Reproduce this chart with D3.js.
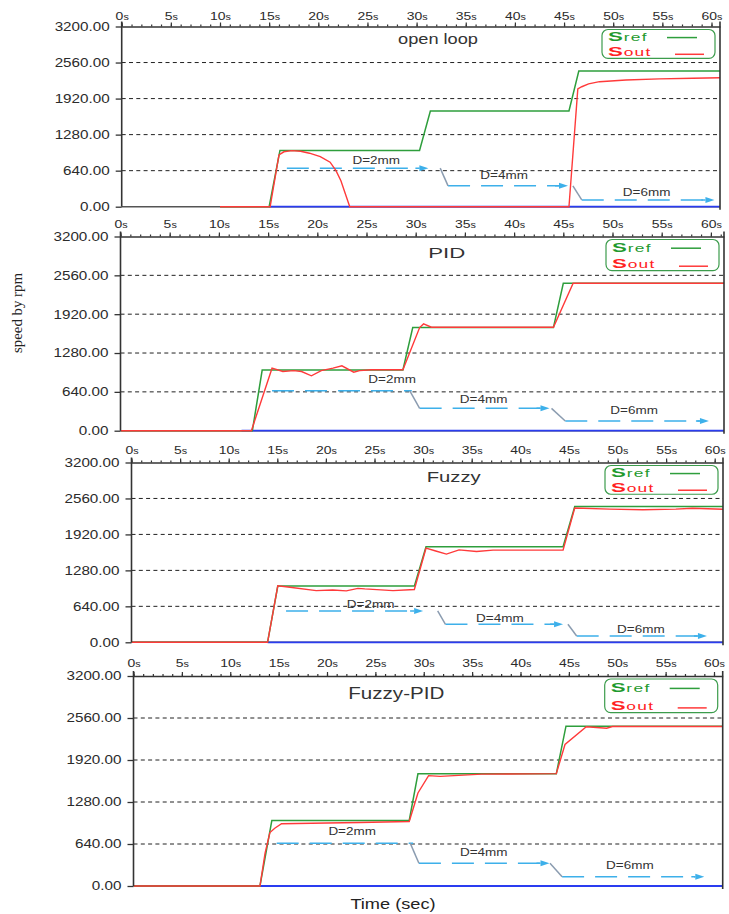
<!DOCTYPE html>
<html>
<head>
<meta charset="utf-8">
<script src="https://cdn.jsdelivr.net/npm/d3@7/dist/d3.min.js"></script>
<style>
  body { margin: 0; background: #fff; }
  svg { display: block; }
</style>
</head>
<body>
<svg id="chart" width="729" height="914"></svg>
<script>
// ---------------- data ----------------
const panelTitles = ["open loop", "PID", "Fuzzy", "Fuzzy-PID"];
const yTickValues = [0, 640, 1280, 1920, 2560, 3200];
const yGridValues = [640, 1280, 1920, 2560];
const xMajorStep = 5;

// reference speed S_ref, [time s, rpm]
const refOpenLoop = [[10,0],[15.0,0],[16.1,1000],[30.3,1000],[31.4,1700],[45.5,1700],[46.5,2410],[62,2410]];
const refPID      = [[0,0],[13.4,0],[14.4,1000],[28.7,1000],[29.7,1700],[44.0,1700],[45.0,2430],[62,2430]];
const refFuzzy    = [[0,0],[14.0,0],[15.05,1000],[29.1,1000],[30.3,1700],[44.4,1700],[45.6,2415],[62,2415]];
const refFuzzyPID = [[0,0],[13.07,0],[14.3,1000],[28.5,1000],[29.4,1710],[43.7,1710],[44.7,2435],[62,2435]];

// measured output speed S_out, [time s, rpm]
const outOpenLoop = [[10,0],[15.1,0],[16.0,920],[16.5,975],[17.3,995],[18.2,985],[19.1,950],[20.2,890],[21.2,790],
  [21.8,640],[22.3,460],[23.2,0],[45.5,0],[46.4,2090],[46.8,2130],[47.5,2180],[48.6,2220],[51.3,2250],[54.7,2270],
  [58.1,2280],[62,2295]];
const outPID = [[0,0],[13.3,0],[15.4,1030],[16.5,975],[17.6,990],[18.4,975],[19.4,905],[20.4,990],[21.6,1030],
  [22.5,1070],[23.7,965],[24.3,990],[25.5,1005],[28.7,1005],[30.4,1700],[30.8,1760],[31.6,1705],[44.0,1705],
  [46.0,2430],[62,2430]];
const outFuzzy = [[0,0],[14.0,0],[15.05,1005],[16.3,980],[19.0,920],[20.7,930],[22.1,915],[23.3,960],[24.0,950],
  [26.9,920],[29.1,940],[30.3,1675],[31.3,1625],[32.4,1570],[33.7,1645],[35.5,1615],[37.2,1640],[44.4,1640],
  [45.6,2390],[49.2,2370],[52.6,2360],[56.0,2370],[57.7,2385],[62,2360]];
const outFuzzyPID = [[0,0],[13.07,0],[13.6,500],[14.1,815],[14.6,880],[15.3,948],[20.0,960],[23.4,968],[28.5,983],
  [29.4,1417],[30.5,1682],[31.7,1671],[36.0,1705],[43.7,1712],[44.6,2156],[46.8,2426],[48.9,2405],[49.5,2430],[62,2430]];

// zero-level trace starts (s)
const baseFrom = [15.0, 12.3, 14.0, 13.07];

// disturbance steps D: dashed level segments and the drops between them
const dLabels = ["D=2mm", "D=4mm", "D=6mm"];
const dStart  = [[16.8, 33.2, 46.8], [15.4, 30.4, 45.2], [15.9, 32.3, 45.8], [14.8, 29.5, 44.3]];
const dEnd    = [[31.2, 45.4, 60.3], [29.6, 43.6, 59.8], [30.0, 44.4, 59.2], [28.9, 43.0, 59.0]];
const dDrop   = [[null, 32.4, 45.9], [null, 29.4, 43.8], [null, 31.5, 44.9], [null, 28.6, 43.05]];
const dLevel  = [[685, 370, 120], [658, 368, 160], [558, 320, 112], [653, 347, 142]];
const dArrow  = [[1, 1, 1], [0, 1, 1], [1, 1, 1], [0, 1, 1]];
const dLabelT = [[25.9, 38.9, 53.4], [27.6, 36.9, 52.2], [24.6, 37.9, 52.4], [22.6, 36.2, 51.3]];
const dLabelV = [[812, 546, 256], [847, 522, 330], [665, 428, 219], [830, 515, 306]];

const refSeries = [refOpenLoop, refPID, refFuzzy, refFuzzyPID];
const outSeries = [outOpenLoop, outPID, outFuzzy, outFuzzyPID];

// ---------------- layout ----------------
const layout = [
  { left: 121.7, right: 720.0, top: 26.5,  bottom: 206.7, pxPerSec: 9.83,  labGap: 6.5,
    title: { x: 438,   y: 44.3,  size: 15, w: 80 } },
  { left: 120.5, right: 724.0, top: 236.5, bottom: 430.7, pxPerSec: 9.84,  labGap: 8.2,
    title: { x: 446.7, y: 258.3, size: 15, w: 37 } },
  { left: 131.5, right: 723.0, top: 462.5, bottom: 642.3, pxPerSec: 9.72,  labGap: 8.5,
    title: { x: 453.7, y: 481.7, size: 14, w: 54 } },
  { left: 133.5, right: 722.7, top: 676.0, bottom: 886.0, pxPerSec: 9.675, labGap: 9.3,
    title: { x: 396.3, y: 699.3, size: 16, w: 96 } }
];

const FONT = "'Liberation Sans', Arial, sans-serif";
const STRETCH = 1.27;
const C = {
  axis: "#333", grid: "#222", text: "#2b2b2b",
  ref: "#2e9e3c", out: "#ff3a3a", base: "#2a3cf0",
  dist: "#3db0ea", drop: "#8b9cb0", legend: "#3c9c4c"
};

const svg = d3.select("#chart");

function stretched(sel, x, y, k) {
  return sel.attr("transform", `translate(${x},${y}) scale(${k},1)`);
}

layout.forEach((L, i) => {
  const xMax = (L.right - L.left) / L.pxPerSec;
  const x = d3.scaleLinear().domain([0, xMax]).range([L.left, L.right]);
  const y = d3.scaleLinear().domain([0, 3200]).range([L.bottom, L.top]);
  const g = svg.append("g").attr("class", "panel");

  const clipId = "plotclip" + i;
  svg.append("clipPath").attr("id", clipId).append("rect")
    .attr("x", L.left).attr("y", L.top - 3)
    .attr("width", L.right - L.left).attr("height", L.bottom - L.top + 6);

  // dashed horizontal grid
  g.append("g").selectAll("line").data(yGridValues).join("line")
    .attr("x1", L.left).attr("x2", L.right)
    .attr("y1", d => y(d)).attr("y2", d => y(d))
    .attr("stroke", C.grid).attr("stroke-width", 1).attr("stroke-dasharray", "4,3.3");

  // bottom base line
  g.append("line").attr("x1", L.left).attr("x2", L.right)
    .attr("y1", y(0)).attr("y2", y(0)).attr("stroke", "#555").attr("stroke-width", 1.5);

  const line = d3.line().x(d => x(d[0])).y(d => y(d[1]));
  const plot = g.append("g").attr("clip-path", `url(#${clipId})`);

  // zero-level trace
  plot.append("path").datum([[baseFrom[i], 0], [70, 0]]).attr("d", line)
    .attr("fill", "none").attr("stroke", C.base).attr("stroke-width", 1.8);

  // disturbance steps
  const dg = plot.append("g");
  dLevel[i].forEach((lv, j) => {
    const xs = x(dStart[i][j]), xe = x(dEnd[i][j]), yy = y(lv);
    const arrowLen = dArrow[i][j] ? 9 : 0;
    dg.append("line").attr("x1", xs).attr("x2", xe - arrowLen).attr("y1", yy).attr("y2", yy)
      .attr("stroke", C.dist).attr("stroke-width", 1.5).attr("stroke-dasharray", "22,11");
    if (dArrow[i][j]) {
      dg.append("path")
        .attr("d", `M${xe},${yy} L${xe - arrowLen},${yy - 3} L${xe - arrowLen},${yy + 3} Z`)
        .attr("fill", C.dist);
      dg.append("line").attr("x1", xe - arrowLen - 4).attr("x2", xe - arrowLen).attr("y1", yy).attr("y2", yy)
        .attr("stroke", C.dist).attr("stroke-width", 1.5);
    }
    if (j > 0) {
      dg.append("line")
        .attr("x1", x(dDrop[i][j])).attr("y1", y(dLevel[i][j - 1]))
        .attr("x2", xs).attr("y2", yy)
        .attr("stroke", C.drop).attr("stroke-width", 1.5);
    }
    stretched(g.append("text"), x(dLabelT[i][j]), y(dLabelV[i][j]) + 3.5, 1.35)
      .attr("text-anchor", "middle").attr("font-family", FONT).attr("font-size", 10)
      .attr("fill", "#333").text(dLabels[j]);
  });

  // S_ref and S_out
  plot.append("path").datum(refSeries[i]).attr("d", line)
    .attr("fill", "none").attr("stroke", C.ref).attr("stroke-width", 1.5);
  plot.append("path").datum(outSeries[i]).attr("d", line)
    .attr("fill", "none").attr("stroke", C.out).attr("stroke-width", 1.4);

  // top time axis: minor ticks each second, labelled majors every 5 s
  const minorTicks = d3.range(0, Math.floor(xMax) + 1);
  const majorTicks = d3.range(0, 61, xMajorStep);
  const topMinor = g.append("g").attr("transform", `translate(0,${L.top})`)
    .call(d3.axisTop(x).tickValues(minorTicks).tickSize(2).tickFormat(""));
  topMinor.select(".domain").remove();
  const topMajor = g.append("g").attr("transform", `translate(0,${L.top})`)
    .call(d3.axisTop(x).tickValues(majorTicks).tickSize(4).tickSizeOuter(0));
  [topMinor, topMajor].forEach(a => a.attr("color", C.axis).selectAll("line").attr("stroke-width", 1.2));
  topMajor.select(".domain").attr("stroke-width", 1.5);
  topMajor.selectAll(".tick text").each(function (d) {
    const t = d3.select(this);
    t.text(null)
      .attr("y", -L.labGap).attr("dy", 0)
      .attr("transform", `scale(${STRETCH},1)`)
      .attr("font-family", FONT).attr("font-size", 11).attr("fill", C.text);
    t.append("tspan").text(d);
    t.append("tspan").attr("font-size", 8.5).text("s");
  });

  // left speed axis
  const leftAxis = g.append("g").attr("transform", `translate(${L.left},0)`)
    .call(d3.axisLeft(y).tickValues(yTickValues).tickSize(6).tickSizeOuter(0).tickFormat(d3.format(".2f")));
  leftAxis.attr("color", C.axis);
  leftAxis.select(".domain").remove();
  leftAxis.selectAll(".tick line").attr("stroke-width", 1.3);
  leftAxis.selectAll(".tick text")
    .attr("x", -12 / STRETCH).attr("transform", `scale(${STRETCH},1)`)
    .attr("font-family", FONT).attr("font-size", 12).attr("fill", C.text);
  g.append("line").attr("x1", L.left).attr("x2", L.left)
    .attr("y1", L.top - 5).attr("y2", y(0))
    .attr("stroke", C.axis).attr("stroke-width", 1.6);

  // right frame line
  g.append("line").attr("x1", L.right).attr("x2", L.right)
    .attr("y1", L.top - 5).attr("y2", L.bottom + 3)
    .attr("stroke", C.axis).attr("stroke-width", 1.6);

  // panel title
  g.append("text").attr("x", L.title.x).attr("y", L.title.y)
    .attr("text-anchor", "middle").attr("font-family", FONT).attr("font-size", L.title.size)
    .attr("textLength", L.title.w).attr("lengthAdjust", "spacingAndGlyphs")
    .attr("fill", "#333").text(panelTitles[i]);

  // legend: one text row per series (bold S + subscript name)
  const bw = 113, bh = (L.bottom - L.top) * 0.16;
  const bx = L.right - 5 - bw, by = L.top + 3;
  const lg = g.append("g");
  lg.append("rect").attr("x", bx).attr("y", by).attr("width", bw).attr("height", bh)
    .attr("rx", 6).attr("fill", "none").attr("stroke", C.legend).attr("stroke-width", 1.2);
  const items = [
    { sub: "ref", color: "#1f9a2e", line: C.ref, base: 0.39, ly: 0.28, lx0: 65, lx1: 95 },
    { sub: "out", color: "#ff2222", line: C.out, base: 0.91, ly: 0.86, lx0: 73, lx1: 102 }
  ];
  items.forEach(it => {
    const yb = by + bh * it.base;
    const t = stretched(lg.append("text"), bx + 6, yb, 1.65)
      .attr("font-family", FONT).attr("fill", it.color);
    t.append("tspan").attr("font-weight", "bold").attr("font-size", 13.5).text("S");
    t.append("tspan").attr("dx", 0.5).attr("font-size", 10.5).attr("letter-spacing", 0.8).text(it.sub);
    lg.append("line").attr("x1", bx + it.lx0).attr("x2", bx + it.lx1)
      .attr("y1", by + bh * it.ly).attr("y2", by + bh * it.ly)
      .attr("stroke", it.line).attr("stroke-width", 1.5);
  });
});

// shared axis titles
svg.append("text")
  .attr("transform", "translate(22,313) rotate(-90)")
  .attr("text-anchor", "middle")
  .attr("font-family", "'Liberation Serif', 'Times New Roman', serif")
  .attr("font-size", 15).attr("textLength", 80).attr("lengthAdjust", "spacingAndGlyphs")
  .attr("fill", "#222").text("speed by rpm");

stretched(svg.append("text"), 393, 909, 1.3)
  .attr("text-anchor", "middle").attr("font-family", FONT).attr("font-size", 14)
  .attr("fill", "#222").text("Time (sec)");
</script>
</body>
</html>
